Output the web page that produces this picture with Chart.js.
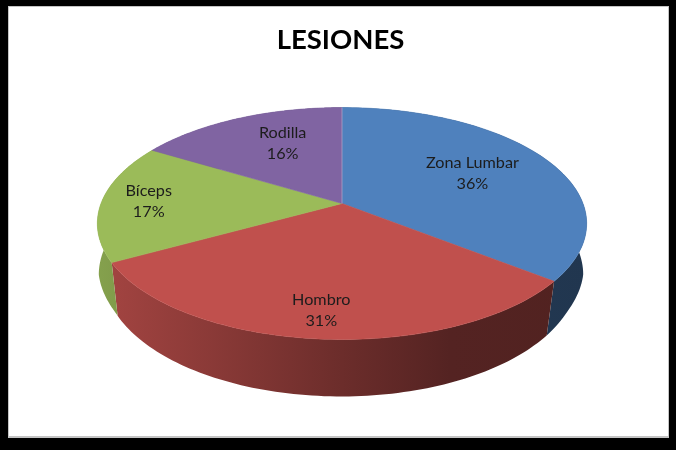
<!DOCTYPE html>
<html>
<head>
<meta charset="utf-8">
<title>Lesiones</title>
<script src="https://cdn.jsdelivr.net/npm/chart.js@4"></script>
<style>
    body { margin: 0; background: #000; overflow: hidden; }
    #frame { position: absolute; left: 8px; top: 6px; width: 659px; height: 429px; background: #fff; border: 1px solid #c4c4c4; border-bottom-width: 2px; }
    #lesiones { position: absolute; left: 0; top: 0; }
</style>
</head>
<body>
<div id="frame"></div>
<canvas id="lesiones" width="676" height="450"></canvas>
<script>
const categories = ['Zona Lumbar', 'Hombro', 'Bíceps', 'Rodilla'];
const percentages = [35.6, 31.4, 16.6, 16.4];
const sliceColors = ['#4f81bd', '#c0504d', '#9bbb59', '#8064a2'];
// how far out along its slice each label sits (1 = the rim), plus a small nudge in px
const labelRadius = [0.63, 0.8, 0.8, 0.66];
const labelNudge = [[0, -0.5], [-2.5, 3], [-1, -1], [12, -1]];

// Excel style 3D look: the flat pie from Chart.js gets put through a perspective
const tilt = 0.1724;
const stretchX = 1.645;
const stretchY = 0.768;
const pieNudgeX = 1.5;

// side wall shading, left to right over the pie (position, brightness)
const wallShade = [[0, 0.86], [0.5, 0.56], [0.72, 0.44], [1, 0.42]];

const project = (arc, angle, r) => {
    const u = Math.cos(angle) * r;
    const v = Math.sin(angle) * r;
    const w = 1 - tilt * v;
    return {
        x: arc.x + pieNudgeX + arc.outerRadius * stretchX * u / w,
        y: arc.y + arc.outerRadius * stretchY * v / w
    };
};

// the lower rim sits a bit narrower and a bit further down, more so towards the front
const dropPoint = (arc, p) => {
    const cx = arc.x + pieNudgeX;
    const front = Math.min(1, Math.max(0, (p.y - arc.y - 20) / 36));
    return {
        x: cx - 1 + (p.x - cx) * (0.99 - 0.02 * front),
        y: p.y + 53 + (p.y - arc.y - 56) * 0.05
    };
};

const shadeColor = (hex, k) => {
    const n = parseInt(hex.slice(1), 16);
    return `rgb(${Math.round((n >> 16) * k)},${Math.round(((n >> 8) & 255) * k)},${Math.round((n & 255) * k)})`;
};

const rimPoints = (arc) => {
    const steps = 90;
    const pts = [];
    for (let i = 0; i <= steps; i++) {
        pts.push(project(arc, arc.startAngle + (arc.endAngle - arc.startAngle) * i / steps, 1));
    }
    return pts;
};

const pie3d = {
    id: 'pie3d',
    beforeDatasetsDraw(chart) {
        const ctx = chart.ctx;
        const arcs = chart.getDatasetMeta(0).data;

        // side walls first, the top face covers whatever is round the back
        arcs.forEach((arc) => {
            const base = arc.options.backgroundColor;
            const top = rimPoints(arc);
            const halfWidth = arc.outerRadius * stretchX * 1.02;
            const cx = arc.x + pieNudgeX;
            const grad = ctx.createLinearGradient(cx - halfWidth, 0, cx + halfWidth, 0);
            wallShade.forEach(([pos, k]) => grad.addColorStop(pos, shadeColor(base, k)));
            ctx.beginPath();
            top.forEach((p, i) => (i ? ctx.lineTo(p.x, p.y) : ctx.moveTo(p.x, p.y)));
            top.slice().reverse().forEach((p) => {
                const d = dropPoint(arc, p);
                ctx.lineTo(d.x, d.y);
            });
            ctx.closePath();
            ctx.fillStyle = grad;
            ctx.fill();
        });

        // top face
        arcs.forEach((arc) => {
            const centre = project(arc, 0, 0);
            ctx.beginPath();
            ctx.moveTo(centre.x, centre.y);
            rimPoints(arc).forEach((p) => ctx.lineTo(p.x, p.y));
            ctx.closePath();
            ctx.fillStyle = arc.options.backgroundColor;
            ctx.strokeStyle = arc.options.backgroundColor;
            ctx.lineWidth = 0.6;
            ctx.fill();
            ctx.stroke();
        });

        // faint light seam where the first slice starts
        const first = arcs[0];
        const seamFrom = project(first, first.startAngle, 0);
        const seamTo = project(first, first.startAngle, 1);
        ctx.beginPath();
        ctx.moveTo(seamFrom.x, seamFrom.y);
        ctx.lineTo(seamTo.x, seamTo.y);
        ctx.strokeStyle = 'rgba(255,255,255,0.3)';
        ctx.lineWidth = 1;
        ctx.stroke();

        // labels
        ctx.font = '16.2px Lato';
        ctx.fillStyle = '#1c1c1c';
        ctx.textAlign = 'center';
        ctx.textBaseline = 'middle';
        arcs.forEach((arc, i) => {
            const mid = (arc.startAngle + arc.endAngle) / 2;
            const p = project(arc, mid, labelRadius[i]);
            const x = p.x + labelNudge[i][0];
            const y = p.y + labelNudge[i][1];
            ctx.fillText(categories[i], x, y - 10.5);
            ctx.fillText(Math.round(percentages[i]) + '%', x, y + 10.5);
        });
        return false;
    }
};

new Chart(document.getElementById('lesiones'), {
    type: 'pie',
    data: {
        labels: categories,
        datasets: [{
            data: percentages,
            backgroundColor: sliceColors,
            borderWidth: 0
        }]
    },
    options: {
        responsive: false,
        animation: false,
        layout: { padding: { left: 5, right: 0, top: 0, bottom: 100 } },
        plugins: {
            legend: { display: false },
            tooltip: { enabled: false },
            title: {
                display: true,
                text: 'LESIONES',
                color: '#000',
                font: { family: 'Lato', size: 27.5, weight: 'bold' },
                padding: { top: 24, bottom: 0 }
            }
        }
    },
    plugins: [pie3d]
});
</script>
</body>
</html>
